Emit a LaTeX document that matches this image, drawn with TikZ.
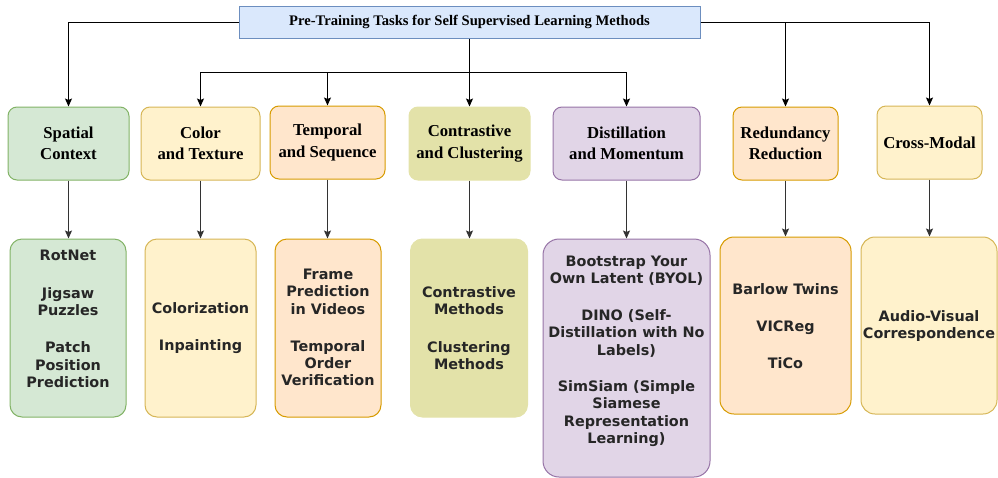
\documentclass[tikz,border=0pt]{standalone}
\usepackage{fontspec}
\setmainfont{Liberation Serif}
\newfontfamily\vfont{DejaVu Sans}
\usetikzlibrary{arrows.meta}
\definecolor{bluefill}{HTML}{DAE8FC}
\definecolor{bluedraw}{HTML}{6C8EBF}
\definecolor{greenfill}{HTML}{D5E8D4}
\definecolor{greendraw}{HTML}{82B366}
\definecolor{yellowfill}{HTML}{FFF2CC}
\definecolor{yellowdraw}{HTML}{D6B656}
\definecolor{orangefill}{HTML}{FFE6CC}
\definecolor{orangedraw}{HTML}{D79B00}
\definecolor{olivefill}{HTML}{E3E2A9}
\definecolor{olivedraw}{HTML}{E3E2A9}
\definecolor{purplefill}{HTML}{E1D5E7}
\definecolor{purpledraw}{HTML}{9673A6}
\definecolor{linegray}{HTML}{333333}
\tikzset{
  titlebox/.style={draw=bluedraw, fill=bluefill, line width=1pt, minimum width=461pt, minimum height=32pt, inner sep=0pt,
    font=\fontsize{14.6}{16}\selectfont\bfseries},
  topbox/.style={rounded corners=9pt, line width=1pt, minimum height=73pt, inner sep=0pt, align=center,
    font=\fontsize{16.7}{21.5}\selectfont\bfseries},
  botbox/.style={rounded corners=12pt, line width=1pt, inner sep=0pt},
  btext/.style={align=center, inner sep=0pt, font=\vfont\fontsize{14.4}{17.3}\selectfont\bfseries, text=black!85},
  arr/.style={draw=black, line width=1pt, -{Stealth[length=8pt,width=7pt,inset=1.5pt]}},
  arrg/.style={draw=linegray, line width=1pt, -{Stealth[length=8pt,width=7pt,inset=1.5pt]}},
  green/.style={draw=greendraw, fill=greenfill},
  yellow/.style={draw=yellowdraw, fill=yellowfill},
  orange/.style={draw=orangedraw, fill=orangefill},
  olive/.style={draw=olivedraw, fill=olivefill},
  purple/.style={draw=purpledraw, fill=purplefill},
}
\begin{document}
\begin{tikzpicture}[x=1pt, y=-1pt]
\useasboundingbox (0,0) rectangle (998,477);

% title
\node[titlebox] (title) at (469.5,22) {Pre-Training Tasks for Self Supervised Learning Methods};

% top row
\node[topbox, green,  minimum width=121pt] (sc) at (68.5,143.5) {Spatial\\Context};
\node[topbox, yellow, minimum width=119pt] (ct) at (200.5,143.5) {Color\\and Texture};
\node[topbox, orange, minimum width=115pt] (ts) at (327.5,142.5) {Temporal\\and Sequence};
\node[topbox, olive,  minimum width=121pt] (cc) at (469.5,143.5) {Contrastive\\and Clustering};
\node[topbox, purple, minimum width=147pt] (dm) at (626.5,143.5) {Distillation\\and Momentum};
\node[topbox, orange, minimum width=105pt] (rr) at (785.5,143.5) {Redundancy\\Reduction};
\node[topbox, yellow, minimum width=105pt] (cm) at (929.5,142.5) {Cross-Modal};

% bottom row boxes
\node[botbox, green,  minimum width=116pt, minimum height=178pt] (b1) at (68,328) {};
\node[botbox, yellow, minimum width=111pt, minimum height=178pt] (b2) at (200.5,328) {};
\node[botbox, orange, minimum width=106pt, minimum height=178pt] (b3) at (328,328) {};
\node[botbox, olive,  minimum width=117pt, minimum height=178pt] (b4) at (469,328) {};
\node[botbox, purple, rounded corners=16pt, minimum width=167pt, minimum height=238pt] (b5) at (626.5,358) {};
\node[botbox, orange, rounded corners=14pt, minimum width=131pt, minimum height=177pt] (b6) at (785.5,325.5) {};
\node[botbox, yellow, rounded corners=14pt, minimum width=136pt, minimum height=177pt] (b7) at (929,325.5) {};

% bottom texts
\node[btext] (t1) at (68,319) {RotNet\\[20pt]Jigsaw\\Puzzles\\[20pt]Patch\\Position\\Prediction};
\node[btext] (t2) at (200.5,328) {Colorization\\[20pt]Inpainting};
\node[btext] (t3) at (328,327.5) {Frame\\Prediction\\in Videos\\[20pt]Temporal\\Order\\Verification};
\node[btext] (t4) at (469,328) {Contrastive\\Methods\\[20pt]Clustering\\Methods};
\node[btext] (t5) at (626.5,351) {Bootstrap Your\\Own Latent (BYOL)\\[20pt]DINO (Self-\\Distillation with No\\Labels)\\[19pt]SimSiam (Simple\\Siamese\\Representation\\Learning)};
\node[btext] (t6) at (785.5,326) {Barlow Twins\\[20pt]VICReg\\[20pt]TiCo};
\node[btext] (t7) at (929,326) {Audio-Visual\\Correspondence};

% top connectors
\coordinate (hub) at (469.5,72);
\draw[arr] (title.west) -| (sc.north);
\draw[arr] (title.south) -- (cc.north);
\draw[arr] (hub) -| (ct.north);
\draw[arr] (hub) -| (ts.north);
\draw[arr] (hub) -| (dm.north);
\draw[arr] (title.east) -| (rr.north);
\draw[arr] (title.east) -| (cm.north);

% lower connectors
\draw[arrg] (sc.south) -- (sc.south |- b1.north);
\draw[arrg] (ct.south) -- (ct.south |- b2.north);
\draw[arrg] (ts.south) -- (ts.south |- b3.north);
\draw[arrg] (cc.south) -- (cc.south |- b4.north);
\draw[arrg] (dm.south) -- (dm.south |- b5.north);
\draw[arrg] (rr.south) -- (rr.south |- b6.north);
\draw[arrg] (cm.south) -- (cm.south |- b7.north);
\end{tikzpicture}
\end{document}
